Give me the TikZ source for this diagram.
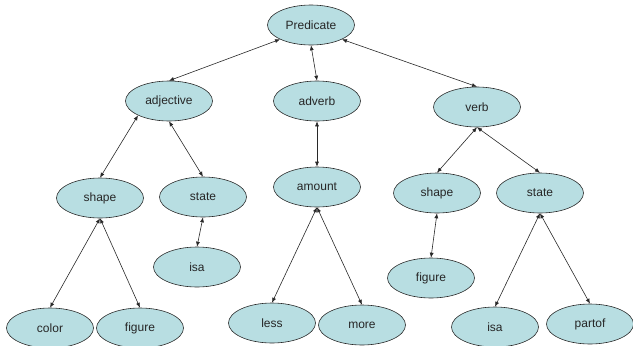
\documentclass[tikz,border=0pt]{standalone}
\usepackage{fontspec}
\setmainfont{Liberation Sans}
\usetikzlibrary{shapes.geometric,arrows.meta}
\definecolor{nodefill}{RGB}{184,222,226}
\definecolor{edgecol}{RGB}{40,40,40}
\tikzset{
  concept/.style={ellipse, draw=edgecol, line width=0.6pt, fill=nodefill,
    minimum width=87pt, minimum height=40pt, inner sep=0pt,
    font=\fontsize{12}{14}\selectfont, text=black!85},
  link/.style={draw=edgecol, line width=0.6pt,
    {Latex[length=5pt,width=4pt]}-{Latex[length=5pt,width=4pt]}}
}
\begin{document}
\begin{tikzpicture}[x=1pt,y=-1pt]
\useasboundingbox (0,0) rectangle (633,346);
\node[concept] (pred) at (311,25) {Predicate};
\node[concept] (adj) at (169,101) {adjective};
\node[concept] (adv) at (317,101) {adverb};
\node[concept] (verb) at (477,107) {verb};
\node[concept] (shapeL) at (100,198) {shape};
\node[concept] (stateL) at (203,197) {state};
\node[concept] (isaL) at (197,267) {isa};
\node[concept] (amount) at (317,187) {amount};
\node[concept] (shapeR) at (437,193) {shape};
\node[concept] (stateR) at (540,193) {state};
\node[concept] (figR) at (431,278) {figure};
\node[concept] (color) at (50,328) {color};
\node[concept] (figL) at (140,328) {figure};
\node[concept] (less) at (272,323) {less};
\node[concept] (more) at (362,325) {more};
\node[concept] (isaR) at (495,327) {isa};
\node[concept] (partof) at (590,324) {partof};

\draw[link] (pred.south west) -- (adj.north);
\draw[link] (pred.south) -- (adv.north);
\draw[link] (pred.south east) -- (verb.north);
\draw[link] (adj.south west) -- (shapeL.north);
\draw[link] (adj.south) -- (stateL.north);
\draw[link] (stateL.south) -- (isaL.north);
\draw[link] (shapeL.south) -- (color.north);
\draw[link] (shapeL.south) -- (figL.north);
\draw[link] (adv.south) -- (amount.north);
\draw[link] (amount.south) -- (less.north);
\draw[link] (amount.south) -- (more.north);
\draw[link] (verb.south) -- (shapeR.north);
\draw[link] (verb.south) -- (stateR.north);
\draw[link] (shapeR.south) -- (figR.north);
\draw[link] (stateR.south) -- (isaR.north);
\draw[link] (stateR.south) -- (partof.north);
\end{tikzpicture}
\end{document}
